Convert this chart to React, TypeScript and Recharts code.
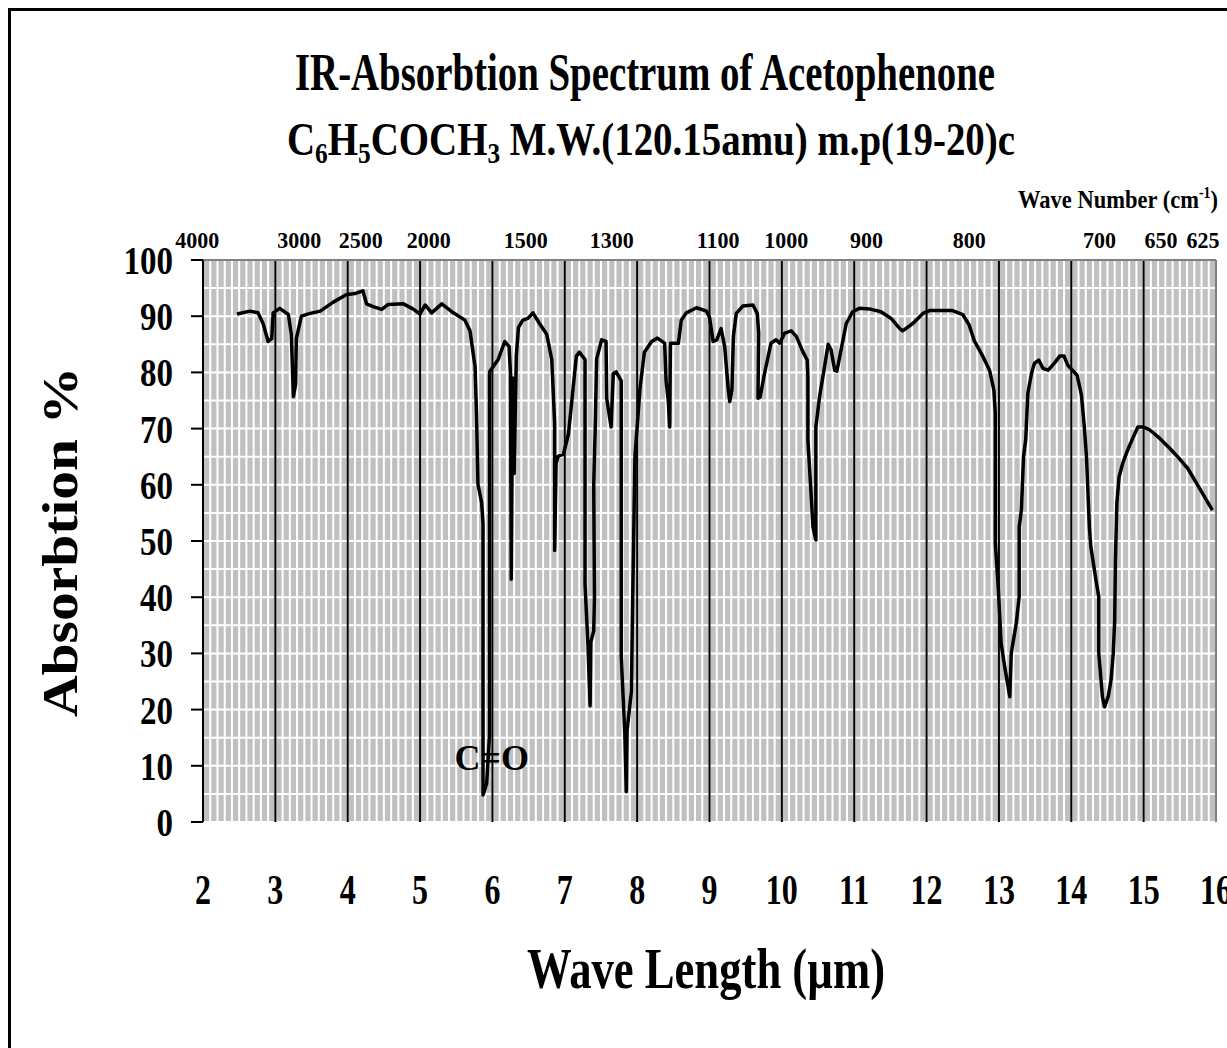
import React from "react";
import { LineChart, Line, XAxis, YAxis, CartesianGrid, ReferenceLine, ReferenceDot } from "recharts";

// Wavelength (µm) and absorption (%), in drawing order
const wavelength = [
  2.47, 2.65, 2.76, 2.83, 2.9, 2.95, 2.97, 3.06, 3.18, 3.22, 3.25, 3.28, 3.29, 3.36, 3.48, 3.62, 3.8, 3.98, 4.12, 4.21,
  4.26, 4.35, 4.47, 4.56, 4.77, 4.9, 5.0, 5.07, 5.16, 5.3, 5.46, 5.62, 5.69, 5.76, 5.78, 5.8, 5.85, 5.87, 5.87, 5.92,
  5.96, 5.96, 6.08, 6.17, 6.23, 6.25, 6.26, 6.28, 6.3, 6.33, 6.36, 6.42, 6.49, 6.56, 6.65, 6.75, 6.82, 6.86, 6.86, 6.88,
  6.91, 6.98, 7.05, 7.09, 7.16, 7.2, 7.28, 7.28, 7.32, 7.35, 7.36, 7.4, 7.41, 7.4, 7.42, 7.44, 7.51, 7.57, 7.58, 7.64,
  7.67, 7.71, 7.78, 7.78, 7.83, 7.85, 7.86, 7.92, 7.94, 7.97, 8.04, 8.1, 8.2, 8.28, 8.38, 8.4, 8.43, 8.45, 8.46, 8.57,
  8.61, 8.68, 8.82, 8.96, 9.0, 9.05, 9.1, 9.16, 9.21, 9.26, 9.28, 9.31, 9.33, 9.37, 9.46, 9.6, 9.66, 9.68, 9.67, 9.7,
  9.76, 9.85, 9.92, 9.97, 10.04, 10.13, 10.2, 10.29, 10.35, 10.36, 10.36, 10.39, 10.43, 10.47, 10.47, 10.52, 10.59, 10.64, 10.68, 10.73,
  10.76, 10.8, 10.89, 10.98, 11.07, 11.21, 11.37, 11.51, 11.63, 11.67, 11.81, 11.95, 12.04, 12.36, 12.5, 12.59, 12.66, 12.78, 12.87, 12.93,
  12.95, 12.95, 12.99, 13.03, 13.08, 13.15, 13.17, 13.24, 13.28, 13.28, 13.31, 13.34, 13.37, 13.4, 13.45, 13.49, 13.55, 13.61, 13.68, 13.77,
  13.84, 13.9, 13.95, 14.08, 14.14, 14.18, 14.21, 14.25, 14.27, 14.34, 14.38, 14.38, 14.43, 14.46, 14.51, 14.55, 14.58, 14.6, 14.61, 14.63,
  14.66, 14.71, 14.78, 14.85, 14.92, 14.99, 15.08, 15.22, 15.36, 15.49, 15.61, 15.73, 15.84, 15.95,
];
const absorption = [
  90.4, 90.9, 90.6, 88.7, 85.5, 86.0, 90.6, 91.4, 90.3, 86.8, 75.7, 77.9, 86.0, 90.0, 90.5, 90.9, 92.5, 93.8, 94.1, 94.5,
  92.2, 91.7, 91.2, 92.1, 92.2, 91.3, 90.4, 92.0, 90.6, 92.2, 90.6, 89.3, 87.4, 81.0, 72.8, 60.1, 56.9, 53.1, 4.8, 6.8,
  15.6, 80.1, 82.3, 85.5, 84.6, 79.8, 43.2, 79.0, 62.0, 83.0, 88.0, 89.3, 89.6, 90.6, 88.7, 86.8, 82.3, 70.9, 48.3, 63.9,
  65.1, 65.4, 69.0, 74.0, 82.9, 83.6, 82.3, 42.3, 31.5, 20.7, 32.0, 34.0, 40.0, 60.0, 70.0, 82.4, 85.8, 85.5, 75.3, 70.3,
  79.8, 80.1, 78.5, 29.6, 15.6, 5.4, 16.2, 23.2, 41.0, 65.1, 77.2, 83.6, 85.5, 86.1, 85.2, 78.5, 75.0, 70.3, 85.2, 85.2,
  89.3, 90.6, 91.5, 90.9, 89.8, 85.5, 85.8, 87.8, 84.6, 76.9, 74.8, 76.9, 86.4, 90.5, 91.8, 92.0, 90.5, 87.0, 75.4, 75.6,
  79.8, 85.2, 85.8, 85.2, 87.0, 87.4, 86.4, 83.7, 82.2, 79.2, 68.0, 61.4, 52.5, 50.2, 70.3, 75.6, 81.0, 85.0, 84.0, 80.4,
  80.2, 82.8, 88.7, 90.8, 91.4, 91.3, 90.8, 89.6, 87.8, 87.4, 88.7, 90.5, 91.0, 91.0, 90.3, 88.4, 85.6, 82.8, 80.4, 76.9,
  72.7, 49.6, 41.9, 31.8, 27.6, 22.3, 30.0, 35.4, 40.1, 52.5, 55.5, 65.0, 68.0, 76.3, 79.8, 81.6, 82.2, 80.7, 80.4, 81.7,
  82.9, 82.9, 81.3, 79.5, 76.0, 70.3, 65.0, 52.5, 49.0, 43.1, 40.1, 30.0, 22.3, 20.5, 22.3, 25.3, 30.0, 35.9, 46.6, 56.7,
  61.4, 63.8, 66.2, 68.3, 70.3, 70.3, 69.8, 68.3, 66.5, 64.7, 62.9, 60.3, 57.9, 55.5,
];

const xDomain = [2, 16];
const yDomain = [0, 100];
const xTicks = [2, 3, 4, 5, 6, 7, 8, 9, 10, 11, 12, 13, 14, 15, 16];
const yTicks = [0, 10, 20, 30, 40, 50, 60, 70, 80, 90, 100];
const majorLines = [3, 4, 5, 6, 7, 8, 9, 10, 11, 12, 13, 14, 15];
// wave-number labels along the top edge, placed at their wavelength positions
const topTickPos = [1.92, 3.33, 4.18, 5.12, 6.46, 7.65, 9.12, 10.06, 11.17, 12.59, 14.39, 15.24, 15.82];
const topTickLabels = ["4000", "3000", "2500", "2000", "1500", "1300", "1100", "1000", "900", "800", "700", "650", "625"];

const data = wavelength.map((w, i) => ({ w, a: absorption[i] }));

const minorX: number[] = [];
for (let i = 21; i < 160; i++) minorX.push(i / 10);
const minorY: number[] = [];
for (let i = 0; i <= 100; i += 5) minorY.push(i);

const serif = "'Liberation Serif', 'Times New Roman', serif";

const YTick = (p: any) => (
  <text
    transform={`translate(${p.x},${p.y + 14}) scale(1,1.24)`}
    textAnchor="end"
    fontFamily={serif}
    fontWeight="bold"
    fontSize={33}
    fill="#000"
  >
    {p.payload.value}
  </text>
);

const XTick = (p: any) => (
  <text
    transform={`translate(${p.x},${p.y + 82}) scale(1,1.34)`}
    textAnchor="middle"
    fontFamily={serif}
    fontWeight="bold"
    fontSize={32}
    fill="#000"
  >
    {p.payload.value}
  </text>
);

const topLabelShape = (label: string) => (p: any) => (
  <text
    transform={`translate(${p.cx},${p.cy - 12}) scale(1,1.08)`}
    textAnchor="middle"
    fontFamily={serif}
    fontWeight="bold"
    fontSize={22}
    fill="#000"
  >
    {label}
  </text>
);

// grid line positions follow the plot offset and the axis domains
const xPix = (o: any, v: number) => o.left + ((v - xDomain[0]) / (xDomain[1] - xDomain[0])) * o.width;
const yPix = (o: any, v: number) => o.top + o.height - ((v - yDomain[0]) / (yDomain[1] - yDomain[0])) * o.height;
const minorGen = (props: any) => minorX.map((v) => xPix(props.offset, v));
const minorYGen = (props: any) => minorY.map((v) => yPix(props.offset, v));
const majorGen = (props: any) => majorLines.map((v) => xPix(props.offset, v));

const CeqO = (p: any) => (
  <text x={p.cx} y={p.cy} textAnchor="middle" fontFamily={serif} fontWeight="bold" fontSize={36} fill="#000">
    C=O
  </text>
);

export default function App() {
  return (
    <div style={{ position: "fixed", left: 0, top: 0, width: 1227, height: 1048, overflow: "hidden", background: "#fff" }}>
      <div
        style={{
          position: "absolute",
          left: 8,
          top: 8,
          width: 1400,
          height: 1200,
          border: "3px solid #000",
          boxSizing: "border-box",
        }}
      />
      <div style={{ position: "absolute", left: 0, top: 0 }}>
        <LineChart width={1300} height={1048} data={data} margin={{ top: 260, right: 84, bottom: 126, left: 123 }}>
          <CartesianGrid
            fill="#C0C0C0"
            fillOpacity={1}
            stroke="#ffffff"
            strokeWidth={2}
            verticalCoordinatesGenerator={minorGen}
            horizontalCoordinatesGenerator={minorYGen}
          />
          <CartesianGrid
            horizontal={false}
            stroke="#000000"
            strokeWidth={2}
            verticalCoordinatesGenerator={majorGen}
          />
          <XAxis
            dataKey="w"
            type="number"
            domain={xDomain}
            ticks={xTicks}
            interval={0}
            axisLine={false}
            tickLine={false}
            tickSize={0}
            tickMargin={0}
            height={100}
            tick={XTick}
          />
          <YAxis
            type="number"
            domain={yDomain}
            ticks={yTicks}
            interval={0}
            width={80}
            axisLine={{ stroke: "#000", strokeWidth: 2 }}
            tickLine={{ stroke: "#000", strokeWidth: 2 }}
            tickSize={12}
            tickMargin={18}
            tick={YTick}
          />
          <ReferenceLine x={16} stroke="#808080" strokeWidth={2} />
          <ReferenceLine y={100} stroke="#808080" strokeWidth={2} />
          <Line
            dataKey="a"
            type="linear"
            stroke="#000"
            strokeWidth={3.5}
            strokeLinejoin="round"
            dot={false}
            activeDot={false}
            isAnimationActive={false}
          />
          <ReferenceDot x={5.99} y={9.25} r={0} shape={CeqO} />
          {topTickPos.map((pos, i) => (
            <ReferenceDot
              key={topTickLabels[i]}
              x={pos}
              y={100}
              r={0}
              ifOverflow="visible"
              shape={topLabelShape(topTickLabels[i])}
            />
          ))}
        </LineChart>
      </div>
      <svg
        width={1227}
        height={1048}
        style={{ position: "absolute", left: 0, top: 0, pointerEvents: "none" }}
        fontFamily={serif}
        fontWeight="bold"
        fill="#000"
      >
        <text x={645} y={90} textAnchor="middle" fontSize={52} textLength={700} lengthAdjust="spacingAndGlyphs">
          IR-Absorbtion Spectrum of Acetophenone
        </text>
        <text x={651} y={155} textAnchor="middle" fontSize={46} textLength={728} lengthAdjust="spacingAndGlyphs">
          C<tspan fontSize={30} dy={8}>6</tspan>
          <tspan dy={-8}>H</tspan>
          <tspan fontSize={30} dy={8}>5</tspan>
          <tspan dy={-8}>COCH</tspan>
          <tspan fontSize={30} dy={8}>3</tspan>
          <tspan dy={-8}> M.W.(120.15amu) m.p(19-20)c</tspan>
        </text>
        <text x={1018} y={208} fontSize={26} textLength={200} lengthAdjust="spacingAndGlyphs">
          Wave Number (cm<tspan fontSize={16} dy={-10}>-1</tspan>
          <tspan dy={10}>)</tspan>
        </text>
        <text
          transform="translate(77,542) rotate(-90)"
          textAnchor="middle"
          fontSize={50}
          textLength={350}
          lengthAdjust="spacingAndGlyphs"
        >
          Absorbtion %
        </text>
        <text x={706} y={988} textAnchor="middle" fontSize={56} textLength={358} lengthAdjust="spacingAndGlyphs">
          Wave Length (µm)
        </text>
      </svg>
    </div>
  );
}
